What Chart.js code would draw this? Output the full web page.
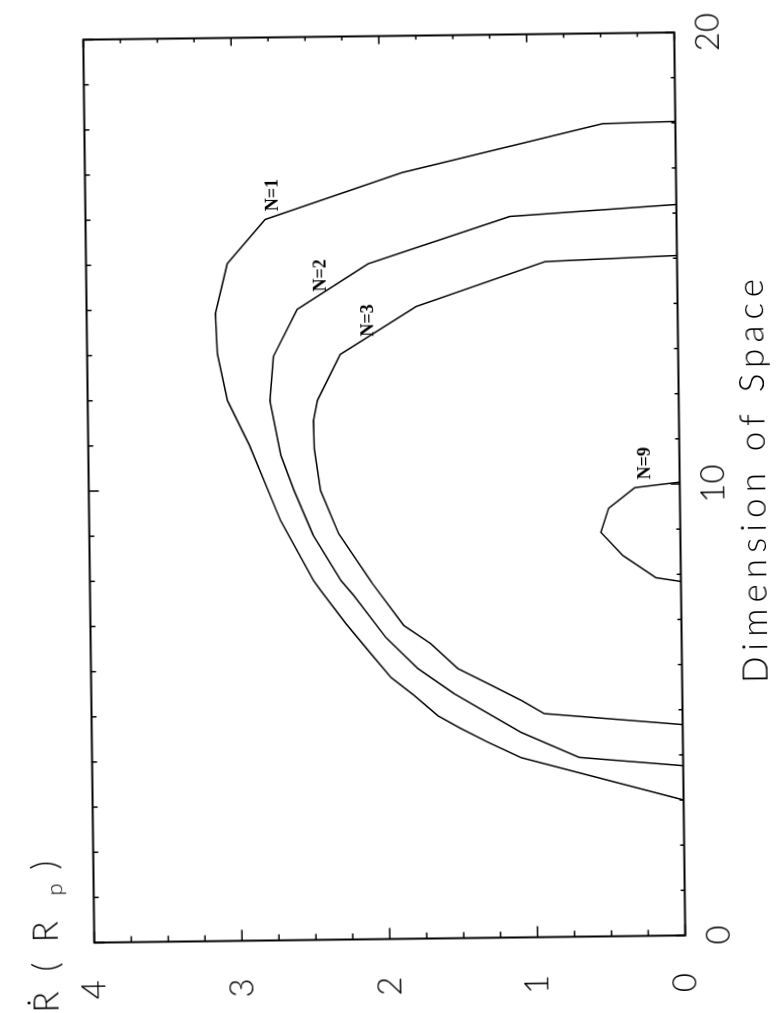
<!DOCTYPE html>
<html>
<head>
<meta charset="utf-8">
<title>R(Rp) against dimension of space</title>
<script src="https://cdn.jsdelivr.net/npm/chart.js@4.4.1/dist/chart.umd.min.js"></script>
<style>
  html, body { margin: 0; padding: 0; background: #fff; overflow: hidden; }
  #page { position: relative; width: 776px; height: 1013px; overflow: hidden; background: #fff; }
  /* the plot was printed sideways, so the chart is turned a quarter turn (plus the small skew of the scan) */
  #turn { position: absolute; left: -118.5px; top: 118.5px; width: 1013px; height: 776px;
          transform: rotate(-90.7deg); transform-origin: 50% 50%; }
</style>
</head>
<body>
<div id="page"><div id="turn"><canvas id="chart" width="1013" height="776"></canvas></div></div>
<script>
// 1. DATA: dimension of space -> R in units of R_p
const dimN1 = [3.0, 3.98, 4.33, 4.64, 4.93, 5.39, 5.79, 6.33, 7.0, 7.74, 7.96, 9.3, 9.63, 10.97, 11.97, 13.01, 13.9, 15.0, 15.97, 16.97, 18.0, 18.03];
const rN1   = [0, 1.095, 1.318, 1.50, 1.655, 1.816, 1.97, 2.106, 2.272, 2.439, 2.486, 2.705, 2.745, 2.909, 3.054, 3.119, 3.129, 3.044, 2.784, 1.854, 0.492, 0];

const dimN2 = [3.76, 3.97, 4.54, 4.97, 5.42, 5.98, 6.68, 7.62, 7.95, 8.97, 9.96, 10.74, 11.95, 12.93, 13.97, 14.96, 15.97, 16.19];
const rN2   = [0, 0.702, 1.094, 1.316, 1.545, 1.787, 2.002, 2.216, 2.30, 2.486, 2.611, 2.697, 2.767, 2.740, 2.574, 2.091, 1.127, 0];

const dimN3 = [4.67, 4.95, 5.25, 5.63, 5.97, 6.53, 6.94, 7.90, 8.99, 9.95, 10.88, 11.5, 11.95, 12.96, 14.0, 14.96, 15.06];
const rN3   = [0, 0.936, 1.091, 1.314, 1.516, 1.698, 1.879, 2.093, 2.312, 2.431, 2.47, 2.473, 2.445, 2.287, 1.769, 0.893, 0];

const dimN9 = [7.84, 7.93, 8.43, 8.95, 9.48, 9.93, 10.04];
const rN9   = [0, 0.169, 0.391, 0.538, 0.483, 0.305, 0];

// curve names and where they are written (dimension, R)
const curveNames = ['N=1', 'N=2', 'N=3', 'N=9'];
const labelDims  = [16.15, 14.36, 13.35, 10.11];
const labelRs    = [2.695, 2.382, 2.06, 0.197];

// tick labels
const dimTickLabels = [0, 10, 20];
const rTickLabels   = [0, 1, 2, 3, 4];

const toPoints = (xs, ys) => xs.map((x, i) => ({ x: x, y: ys[i] }));

// --- frame, inward ticks, curve names and axis titles ---
const framePlugin = {
    id: 'frame',
    afterDraw(chart) {
        const ctx = chart.ctx;
        const a = chart.chartArea;
        const xs = chart.scales.x;
        const ys = chart.scales.y;
        ctx.save();
        ctx.strokeStyle = '#000';
        ctx.lineWidth = 2;
        ctx.strokeRect(a.left, a.top, a.right - a.left, a.bottom - a.top);

        ctx.lineWidth = 1.5;
        ctx.beginPath();
        xs.ticks.forEach(t => {
            const p = xs.getPixelForValue(t.value);
            const major = dimTickLabels.includes(t.value);
            ctx.moveTo(p, a.bottom); ctx.lineTo(p, a.bottom - (major ? 9 : 4));
            ctx.moveTo(p, a.top); ctx.lineTo(p, a.top + (major ? 10 : 5));
        });
        ys.ticks.forEach(t => {
            const p = ys.getPixelForValue(t.value);
            const major = rTickLabels.includes(t.value);
            ctx.moveTo(a.left, p); ctx.lineTo(a.left + (major ? 11 : 6), p);
            ctx.moveTo(a.right, p); ctx.lineTo(a.right - (major ? 8 : 4), p);
        });
        ctx.stroke();

        ctx.fillStyle = '#000';
        ctx.textAlign = 'left';
        ctx.textBaseline = 'alphabetic';
        ctx.font = 'bold 18px "Liberation Serif"';
        curveNames.forEach((name, i) => {
            ctx.fillText(name, xs.getPixelForValue(labelDims[i]), ys.getPixelForValue(labelRs[i]));
        });

        // x title, spread out like the plotter lettering
        const xTitle = 'Dimension of Space';
        const span = 404;
        ctx.font = '300 35px Lato';
        ctx.letterSpacing = '0px';
        const w0 = ctx.measureText(xTitle).width;
        ctx.letterSpacing = ((span - w0) / (xTitle.length - 1)) + 'px';
        ctx.fillText(xTitle, (a.left + a.right) / 2 + 2 - span / 2, a.bottom + 85.5);

        // y title R(R_p) with the subscript p
        ctx.letterSpacing = '20px';
        ctx.fillText('\u1E58(R', a.left - 69.5, a.top - 36.5);
        ctx.letterSpacing = '0px';
        ctx.font = '300 22px Lato';
        ctx.fillText('p', a.left + 47.5, a.top - 32);
        ctx.font = '300 35px Lato';
        ctx.fillText(')', a.left + 73.5, a.top - 36.5);
        ctx.restore();
    }
};

const tickFont = { family: 'Lato', size: 33, weight: '300' };

function lineSet(name, xs, ys) {
    return {
        label: name,
        data: toPoints(xs, ys),
        showLine: true,
        fill: false,
        borderColor: '#000',
        borderWidth: 1.5,
        pointRadius: 0,
        tension: 0
    };
}

new Chart(document.getElementById('chart'), {
    type: 'scatter',
    data: {
        datasets: [
            lineSet('N=1', dimN1, rN1),
            lineSet('N=2', dimN2, rN2),
            lineSet('N=3', dimN3, rN3),
            lineSet('N=9', dimN9, rN9)
        ]
    },
    options: {
        responsive: false,
        animation: false,
        layout: { padding: { left: 0, right: 35.5, top: 88.5, bottom: 0 } },
        plugins: { legend: { display: false }, tooltip: { enabled: false } },
        scales: {
            x: {
                type: 'linear',
                min: 0,
                max: 20,
                afterFit(s) { s.height = 96.5; },
                border: { display: false },
                grid: { display: false },
                ticks: {
                    stepSize: 1,
                    autoSkip: false,
                    maxRotation: 0,
                    padding: 6,
                    color: '#000',
                    font: tickFont,
                    callback: v => dimTickLabels.includes(v) ? String(v) : ''
                }
            },
            y: {
                type: 'linear',
                min: 0,
                max: 4,
                afterFit(s) { s.width = 74.5; },
                border: { display: false },
                grid: { display: false },
                ticks: {
                    stepSize: 0.25,
                    autoSkip: false,
                    padding: 29.5,
                    color: '#000',
                    font: tickFont,
                    callback: v => rTickLabels.includes(v) ? String(v) : ''
                }
            }
        }
    },
    plugins: [framePlugin]
});
</script>
</body>
</html>
